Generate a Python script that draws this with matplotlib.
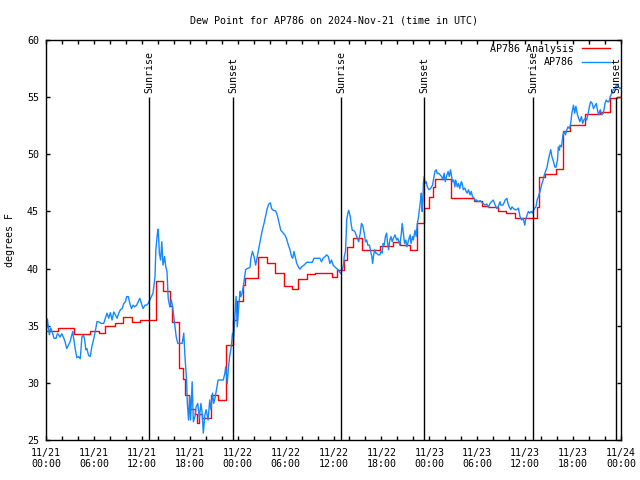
import matplotlib
matplotlib.use("Agg")
import matplotlib.pyplot as plt
import matplotlib.dates as mdates
import pandas as pd

# --- data (hours after 2024-11-21 00:00 UTC, degrees F) ---
start = pd.Timestamp("2024-11-21 00:00")

analysis_hours = [0.0, 1.5, 3.5, 5.5, 6.6, 7.4, 8.65, 9.65, 10.75, 11.75,
                  13.8, 14.6, 15.5, 15.8, 16.6, 17.2, 17.45, 17.85, 18.65, 18.85,
                  19.2, 19.5, 20.6, 21.55, 22.6, 23.45, 23.95, 24.7, 24.9, 26.6,
                  27.65, 28.7, 29.75, 30.75, 31.6, 32.7, 33.7, 35.75, 36.5, 37.3,
                  37.65, 38.5, 39.55, 41.8, 43.5, 44.35, 45.6, 46.5, 47.35, 48.0,
                  48.5, 48.7, 50.7, 53.6, 54.55, 55.35, 56.55, 57.65, 58.7, 59.95,
                  61.5, 61.75, 62.45, 63.85, 64.7, 65.6, 67.5, 69.4, 70.65, 71.45,
                  72.0]
analysis_vals = [34.5, 34.8, 34.3, 34.5, 34.4, 35.0, 35.2, 35.8, 35.3, 35.5,
                 38.9, 38.05, 36.7, 35.35, 31.3, 30.3, 28.95, 27.75, 27.3, 26.5,
                 27.3, 26.9, 28.95, 28.5, 33.35, 35.5, 37.2, 38.6, 39.2, 41.05,
                 40.5, 39.6, 38.5, 38.2, 39.05, 39.5, 39.6, 39.25, 39.85, 40.75,
                 41.9, 42.7, 41.6, 41.95, 42.35, 42.05, 41.6, 44.0, 45.3, 46.3,
                 47.1, 47.85, 46.15, 45.9, 45.45, 45.35, 45.0, 44.85, 44.45, 44.4,
                 45.4, 48.0, 48.25, 48.7, 52.0, 52.6, 53.55, 53.7, 54.95, 55.05,
                 55.05]

obs_hours = [0.0, 0.17, 0.42, 0.59, 0.84, 1.0, 1.26, 1.43, 1.59, 1.76,
             1.97, 2.18, 2.39, 2.6, 2.81, 3.02, 3.23, 3.36, 3.44, 3.65,
             3.86, 4.07, 4.28, 4.36, 4.49, 4.7, 4.83, 4.99, 5.12, 5.33,
             5.54, 5.75, 5.96, 6.17, 6.38, 6.59, 6.88, 7.22, 7.43, 7.64,
             7.85, 8.06, 8.27, 8.48, 8.69, 8.9, 9.11, 9.32, 9.53, 9.74,
             9.95, 10.1, 10.3, 10.5, 10.7, 10.9, 11.1, 11.35, 11.55, 11.75,
             11.95, 12.15, 12.4, 12.6, 12.8, 13.0, 13.2, 13.4, 13.65, 13.75,
             13.95, 14.05, 14.2, 14.35, 14.5, 14.65, 14.85, 15.0, 15.15, 15.3,
             15.5, 15.7, 15.9, 16.1, 16.3, 16.5, 16.75, 17.05, 17.25, 17.4,
             17.6, 17.7, 17.85, 18.0, 18.1, 18.3, 18.45, 18.65, 18.8, 19.0,
             19.2, 19.4, 19.55, 19.7, 19.9, 20.05, 20.3, 20.5, 20.65, 20.85,
             21.0, 21.2, 21.35, 21.55, 21.75, 22.0, 22.2, 22.4, 22.5, 22.7,
             22.85, 23.0, 23.2, 23.35, 23.5, 23.65, 23.8, 23.95, 24.1, 24.3,
             24.4, 24.55, 24.7, 24.85, 25.0, 25.2, 25.55, 25.65, 25.85, 26.05,
             26.25, 26.45, 26.6, 26.85, 27.05, 27.3, 27.5, 27.7, 27.9, 28.1,
             28.25, 28.45, 28.75, 28.95, 29.15, 29.4, 29.65, 29.9, 30.1, 30.35,
             30.55, 30.75, 30.9, 31.05, 31.2, 31.4, 31.6, 31.8, 32.0, 32.3,
             32.65, 33.05, 33.35, 33.55, 34.0, 34.3, 34.5, 34.7, 34.95, 35.15,
             35.35, 35.55, 35.75, 35.95, 36.15, 36.4, 36.6, 36.8, 36.95, 37.1,
             37.25, 37.35, 37.5, 37.6, 37.65, 37.8, 37.9, 38.1, 38.2, 38.35,
             38.5, 38.7, 38.9, 39.15, 39.35, 39.5, 39.65, 39.85, 40.0, 40.15,
             40.3, 40.5, 40.65, 40.8, 40.9, 41.0, 41.15, 41.3, 41.4, 41.6,
             41.8, 41.95, 42.1, 42.2, 42.35, 42.5, 42.65, 42.75, 42.9, 43.05,
             43.2, 43.35, 43.5, 43.7, 43.9, 44.05, 44.3, 44.5, 44.6, 44.8,
             44.9, 45.05, 45.2, 45.4, 45.6, 45.7, 45.9, 46.0, 46.2, 46.35,
             46.5, 46.65, 46.75, 46.9, 47.0, 47.1, 47.2, 47.25, 47.35, 47.45,
             47.6, 47.75, 47.95, 48.15, 48.4, 48.5, 48.7, 48.85, 49.0, 49.15,
             49.35, 49.55, 49.7, 49.85, 50.0, 50.2, 50.35, 50.5, 50.65, 50.8,
             50.9, 51.05, 51.2, 51.3, 51.5, 51.65, 51.8, 52.0, 52.1, 52.25,
             52.45, 52.6, 52.75, 52.9, 53.1, 53.25, 53.4, 53.6, 53.75, 53.9,
             54.15, 54.35, 54.55, 54.75, 54.95, 55.2, 55.4, 55.6, 55.8, 56.0,
             56.25, 56.45, 56.65, 56.85, 56.95, 57.2, 57.35, 57.5, 57.7, 57.85,
             58.0, 58.2, 58.35, 58.55, 58.75, 58.95, 59.15, 59.35, 59.55, 59.75,
             59.95, 60.05, 60.25, 60.4, 60.55, 60.75, 60.9, 61.05, 61.2, 61.35,
             61.5, 61.65, 61.8, 61.95, 62.1, 62.25, 62.4, 62.55, 62.75, 62.9,
             63.05, 63.2, 63.35, 63.55, 63.7, 63.85, 64.05, 64.15, 64.3, 64.35,
             64.55, 64.7, 64.85, 65.05, 65.2, 65.35, 65.55, 65.7, 65.85, 66.05,
             66.2, 66.35, 66.55, 66.7, 66.85, 67.05, 67.2, 67.35, 67.55, 67.7,
             67.9, 68.05, 68.2, 68.4, 68.55, 68.7, 68.9, 69.05, 69.2, 69.4,
             69.6, 69.8, 70.0, 70.15, 70.3, 70.5, 70.65, 70.85, 71.05, 71.25,
             71.45, 71.7, 71.9, 72.0]
obs_vals = [34.0, 35.6, 34.2, 34.8, 34.3, 33.9, 33.9, 34.3, 34.2, 34.0,
            34.3, 34.0, 33.6, 33.0, 33.3, 33.6, 34.2, 34.5, 34.0, 33.0,
            32.2, 32.3, 32.1, 32.7, 34.0, 34.2, 33.8, 32.9, 33.0, 32.4,
            32.3, 33.2, 33.8, 34.5, 35.35, 35.35, 35.2, 35.2, 35.65, 36.1,
            35.65, 36.15, 35.5, 36.2, 35.95, 35.65, 36.1, 36.4, 36.5, 36.95,
            37.1, 37.55, 37.55, 36.95, 36.5, 36.8, 36.65, 36.8, 37.1, 37.4,
            36.95, 36.5, 36.8, 36.8, 36.95, 37.25, 37.55, 37.85, 39.3, 41.6,
            43.1, 43.45, 41.3, 40.75, 42.35, 40.3, 41.05, 40.15, 39.75, 37.4,
            36.65, 37.25, 36.4, 35.2, 34.05, 33.45, 33.45, 33.45, 34.35, 32.3,
            30.25, 28.2, 26.75, 28.8, 26.75, 30.1, 26.6, 27.05, 27.9, 28.2,
            26.9, 28.2, 27.35, 25.6, 27.2, 27.65, 26.75, 28.5, 27.65, 29.1,
            28.2, 28.8, 29.4, 30.25, 30.25, 30.25, 30.25, 30.85, 31.4, 29.95,
            31.4, 32.3, 33.15, 34.35, 34.05, 35.8, 37.55, 34.9, 36.4, 38.0,
            37.55, 37.85, 38.4, 39.15, 39.9, 40.0, 40.1, 40.9, 41.5, 41.05,
            40.3, 41.05, 41.65, 42.5, 43.25, 43.95, 44.6, 45.25, 45.65, 45.75,
            45.25, 45.1, 45.05, 44.7, 44.1, 43.35, 43.15, 42.95, 42.65, 42.05,
            41.65, 41.05, 40.9, 41.5, 41.05, 40.45, 40.15, 39.95, 40.15, 40.3,
            40.55, 40.55, 40.55, 40.9, 40.9, 40.9, 40.6, 40.9, 41.05, 41.2,
            41.05, 40.45, 40.75, 40.3, 40.15, 40.0, 39.9, 39.65, 39.55, 39.9,
            40.3, 41.05, 41.5, 43.1, 44.25, 44.85, 45.1, 44.55, 43.95, 43.35,
            43.35, 43.2, 42.8, 42.35, 43.1, 43.95, 43.8, 43.1, 42.35, 42.5,
            42.05, 42.05, 41.5, 41.05, 40.45, 41.05, 41.65, 41.35, 41.35, 41.2,
            41.2, 41.5, 41.35, 42.2, 42.05, 42.8, 43.1, 42.35, 41.65, 42.5,
            42.8, 42.35, 42.65, 42.95, 42.5, 42.65, 42.05, 43.1, 43.95, 42.8,
            42.2, 42.5, 41.9, 42.5, 42.95, 42.2, 42.8, 42.5, 43.35, 42.8,
            43.95, 44.55, 45.1, 46.0, 46.6, 45.0, 46.0, 47.45, 48.05, 47.45,
            47.6, 47.15, 46.9, 47.0, 47.3, 47.7, 48.5, 48.65, 48.3, 48.35,
            48.2, 48.05, 47.75, 48.35, 47.6, 48.2, 48.5, 48.05, 48.65, 48.05,
            47.6, 47.75, 47.15, 47.75, 47.15, 47.45, 47.0, 47.6, 47.45, 46.9,
            47.05, 46.75, 46.6, 46.9, 46.45, 46.75, 46.3, 46.15, 45.95, 46.0,
            45.85, 45.95, 45.8, 45.7, 45.55, 45.65, 45.35, 45.7, 45.85, 46.0,
            45.55, 45.25, 45.45, 45.85, 45.55, 45.55, 45.75, 46.0, 46.15, 45.7,
            45.4, 45.15, 45.4, 45.25, 45.15, 45.15, 45.3, 44.55, 44.25, 44.4,
            43.8, 44.25, 44.7, 45.0, 44.85, 45.0, 44.85, 45.1, 45.3, 45.4,
            46.0, 46.3, 46.6, 47.0, 47.45, 47.75, 48.2, 48.5, 48.9, 49.5,
            49.95, 50.4, 49.8, 49.35, 48.9, 48.85, 49.5, 50.65, 50.35, 50.8,
            50.65, 51.55, 52.0, 51.7, 52.1, 52.4, 52.25, 52.7, 53.6, 54.3,
            53.6, 54.2, 53.45, 53.15, 52.85, 53.3, 52.7, 53.0, 53.15, 53.0,
            53.6, 54.2, 54.6, 54.45, 54.0, 54.2, 54.45, 53.9, 53.45, 53.9,
            53.45, 53.6, 54.45, 54.75, 54.6, 54.6, 55.05, 55.35, 55.65, 55.8,
            56.05, 55.9, 55.75, 55.8]

event_hours = [12.95, 23.42, 36.94, 47.33, 60.98, 71.38]
event_labels = ["Sunrise", "Sunset", "Sunrise", "Sunset", "Sunrise", "Sunset"]

analysis_times = start + pd.to_timedelta(analysis_hours, unit="h")
obs_times = start + pd.to_timedelta(obs_hours, unit="h")
event_times = start + pd.to_timedelta(event_hours, unit="h")

plt.rcParams["font.family"] = ["DejaVu Sans Mono"]
plt.rcParams["font.size"] = 7.2

fig = plt.figure(figsize=(6.4, 4.8), dpi=100)
ax = fig.add_axes([46 / 640, 40 / 480, 575 / 640, 400 / 480])

ax.plot(analysis_times, analysis_vals, drawstyle="steps-post", color="red",
        lw=1.0, label="AP786 Analysis")
ax.plot(obs_times, obs_vals, color="#1488ff", lw=1.0, label="AP786")

# sunrise / sunset markers
ax.vlines(event_times, 25, 55, color="black", lw=1.0, zorder=5)
for t, lab in zip(event_times, event_labels):
    ax.text(t, 55.35, lab, rotation=90, ha="center", va="bottom", zorder=6)

ax.set_xlim(start, start + pd.Timedelta(hours=72))
ax.set_ylim(25, 60)
ax.set_yticks(range(25, 61, 5))
ax.xaxis.set_major_locator(mdates.HourLocator(byhour=[0, 6, 12, 18]))
ax.xaxis.set_minor_locator(mdates.HourLocator(interval=2))
ax.xaxis.set_major_formatter(mdates.DateFormatter("%m/%d\n%H:%M"))
for lbl in ax.get_xticklabels():
    lbl.set_linespacing(1.1)

ax.tick_params(which="both", direction="in", top=True, right=True,
               length=3, width=1, colors="black")
ax.tick_params(axis="x", which="major", pad=6)
ax.tick_params(axis="y", which="major", pad=5)
for s in ax.spines.values():
    s.set_linewidth(1.0)

ax.set_title("Dew Point for AP786 on 2024-Nov-21 (time in UTC)",
             fontsize=7.2, pad=12)
ax.set_ylabel("degrees F")
ax.yaxis.set_label_coords(-0.054, 0.5)

ax.legend(loc="upper right", bbox_to_anchor=(0.981, 0.99), frameon=False,
          markerfirst=False, handlelength=2.8, handletextpad=0.8,
          labelspacing=0.35, borderpad=0, borderaxespad=0)

fig.savefig("out.png", dpi=100)
